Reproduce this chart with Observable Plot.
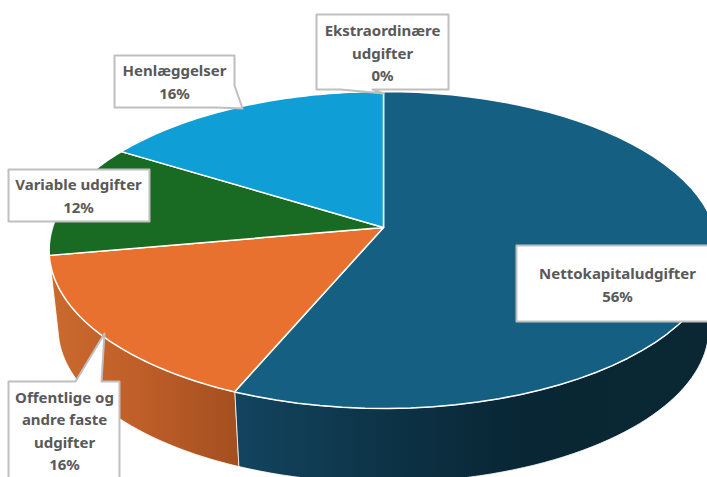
<!DOCTYPE html>
<html>
<head>
<meta charset="utf-8">
<script src="https://cdn.jsdelivr.net/npm/d3@7"></script>
<script src="https://cdn.jsdelivr.net/npm/@observablehq/plot@0.6"></script>
<style>html,body{margin:0;padding:0;background:#fff;overflow:hidden}</style>
</head>
<body>
<div id="chart"></div>
<script>
// Data
const categories = ["Nettokapitaludgifter","Offentlige og\nandre faste\nudgifter","Variable udgifter","Henlæggelser","Ekstraordinære\nudgifter"];
const values = [56.4, 15.8, 11.6, 16.2, 0.0];
const faceColors = ["#156082","#E87130","#196B24","#0F9ED5","#A02B93"];
const callouts = [
  {i:0, box:[[516,245],[730,245],[730,321],[516,321]], at:[617,283]},
  {i:1, box:[[8,381],[75,381],[104,333],[101,381],[119,381],[119,490],[8,490]], at:[64,429]},
  {i:2, box:[[8,169],[149,169],[149,221],[8,221]], at:[78,194]},
  {i:3, box:[[114,55],[234,55],[234,85],[242,108],[216,107],[114,107]], at:[174,80]},
  {i:4, box:[[316,14],[448,14],[448,89],[372,89],[383,93],[340,89],[316,89]], at:[382,51]}
];

// Projection of the tilted disc
const P = {cx:383, cy:227, A:331, B:155.3, b:0.142, k:0.973, D:79};
const top3d = t => {
  const X = Math.sin(t), Y = Math.cos(t), w = 1 + P.b*Y;
  return [P.cx + P.A*X/w, P.cy - P.B*Y/w];
};
const bot3d = t => {
  const X = Math.sin(t), Y = Math.cos(t), w = 1 + P.b*Y;
  return [P.cx + P.k*P.A*X/w, P.cy + P.D - P.k*P.B*Y/w];
};
const total = d3.sum(values);
let acc = 0;
const arcs = values.map((v,i) => {
  const a0 = acc/total*2*Math.PI; acc += v;
  return {i, a0, a1: acc/total*2*Math.PI};
});
const arcPts = (fn,a0,a1) => d3.range(0,61).map(j => fn(a0+(a1-a0)*j/60));

const facePts = arcs.filter(d=>d.a1>d.a0).flatMap(d =>
  [[P.cx,P.cy], ...arcPts(top3d,d.a0,d.a1)].map(p => ({z:d.i,x:p[0],y:p[1]})));
const wallPoly = (a0,a1,z) => [...arcPts(top3d,a0,a1), ...arcPts(bot3d,a0,a1).reverse()].map(p => ({z,x:p[0],y:p[1]}));
const wallBlue = wallPoly(Math.PI/2*1.05, arcs[0].a1, "w0");
const wallOrange = wallPoly(arcs[1].a0, arcs[1].a1, "w1");
const boxPts = callouts.flatMap(c => c.box.map(p => ({z:c.i,x:p[0],y:p[1]})));
const labels = callouts.map(c => ({x:c.at[0], y:c.at[1], t:categories[c.i]+"\n"+Math.round(values[c.i]/total*100)+"%"}));

const grad = (id,stops) => () => {
  const defs = d3.create("svg:defs");
  const g = defs.append("linearGradient").attr("id",id).attr("x1",0).attr("x2",1).attr("y1",0).attr("y2",0);
  stops.forEach(s => g.append("stop").attr("offset",s[0]).attr("stop-color",s[1]));
  return defs.node();
};

const chart = Plot.plot({
  width:707, height:477, margin:0,
  x:{domain:[0,707], range:[0,707], axis:null},
  y:{domain:[0,477], range:[0,477], axis:null},
  style:{background:"#fff"},
  marks:[
    grad("gb",[[0,"#13445f"],[0.35,"#0c3144"],[0.6,"#092634"],[1,"#0a2733"]]),
    grad("go",[[0,"#c96a2e"],[0.45,"#c05f29"],[1,"#a44f20"]]),
    Plot.line(wallBlue,{x:"x",y:"y",z:"z",curve:"linear-closed",fill:"url(#gb)",stroke:"#fff",strokeWidth:0.8}),
    Plot.line(wallOrange,{x:"x",y:"y",z:"z",curve:"linear-closed",fill:"url(#go)",stroke:"#fff",strokeWidth:0.8}),
    Plot.line(facePts,{x:"x",y:"y",z:"z",curve:"linear-closed",fill:d=>faceColors[d.z],stroke:"#fff",strokeWidth:1.5,strokeLinejoin:"round"}),
    Plot.line(boxPts,{x:"x",y:"y",z:"z",curve:"linear-closed",fill:"#fff",stroke:"#BFBFBF",strokeWidth:2}),
    Plot.text(labels,{x:"x",y:"y",text:"t",lineHeight:1.5,textAnchor:"middle",lineAnchor:"middle",fill:"#595959",fontWeight:700,fontSize:15,fontFamily:"Noto Sans"})
  ],
  color:{type:"identity"}
});
document.getElementById("chart").appendChild(chart);
</script>
</body>
</html>
